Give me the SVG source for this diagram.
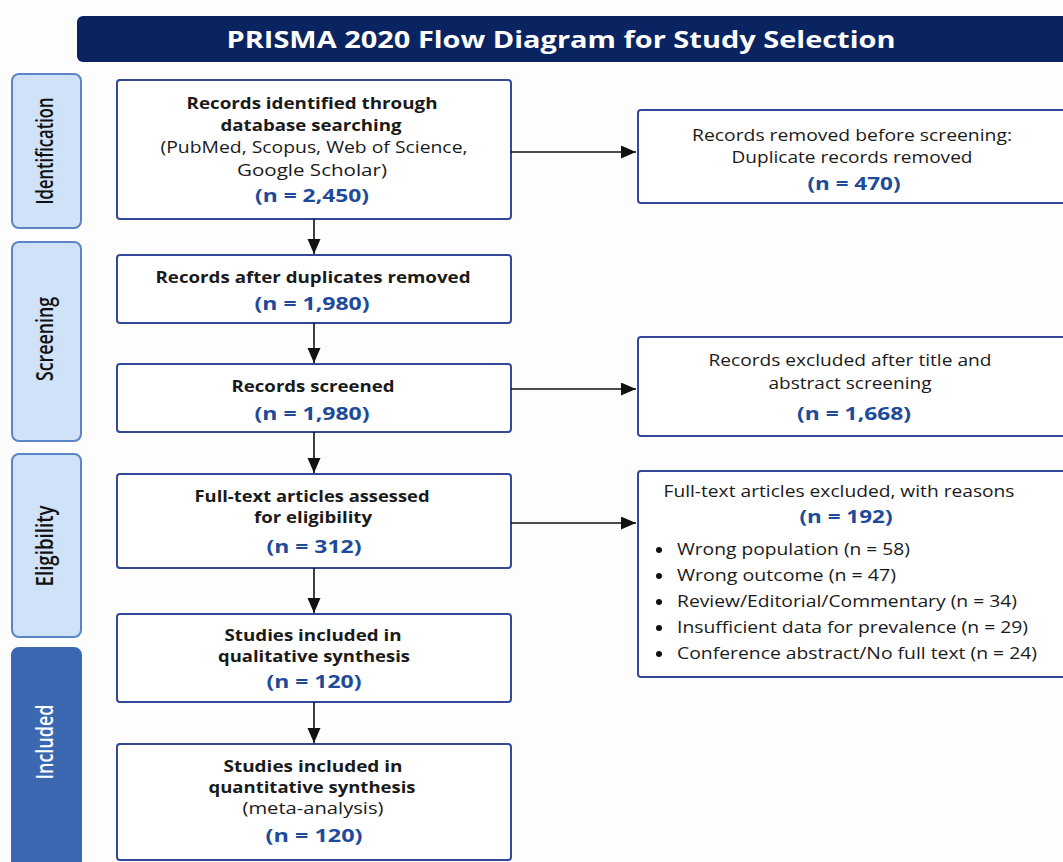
<svg xmlns="http://www.w3.org/2000/svg" width="1063" height="862" viewBox="0 0 1063 862">
<defs>
<marker id="ah" markerWidth="16" markerHeight="14" refX="15" refY="6.5" orient="auto" markerUnits="userSpaceOnUse">
<path d="M0,0 L15,6.5 L0,13 Z" fill="#111"/>
</marker>
<style>
.box{fill:#fff;stroke:#34489a;stroke-width:2}
.stage{fill:#cfe2f8;stroke:#5a84c6;stroke-width:2}
.stageD{fill:#3c68b1;stroke:#3c68b1;stroke-width:2}
.st{font-family:"Open Sans","Liberation Sans",sans-serif;font-size:20px;font-weight:600;fill:#111;text-anchor:middle}
.stw{fill:#fff}
.b{font-family:"Open Sans","Liberation Sans",sans-serif;font-size:16.5px;font-weight:700;fill:#1a1a1a;text-anchor:middle}
.r{font-family:"Open Sans","Liberation Sans",sans-serif;font-size:17px;font-weight:400;fill:#1a1a1a;text-anchor:middle}
.n{font-family:"Open Sans","Liberation Sans",sans-serif;font-size:18px;font-weight:700;fill:#1d4b9a;text-anchor:middle}
.li{font-family:"Open Sans","Liberation Sans",sans-serif;font-size:16.5px;font-weight:400;fill:#1a1a1a}
.ttl{font-family:"Open Sans","Liberation Sans",sans-serif;font-size:23px;font-weight:700;fill:#fff;text-anchor:middle}
.c{stroke:#111;stroke-width:1.6;fill:none}
</style>
</defs>
<rect width="1063" height="862" fill="#fdfdfd"/>

<g id="title">
<rect x="77" y="16" width="1000" height="46" rx="6" fill="#0a2462"/>
<text class="ttl" x="561" y="48" textLength="669" lengthAdjust="spacingAndGlyphs">PRISMA 2020 Flow Diagram for Study Selection</text>
</g>

<g id="stage-identification">
<rect class="stage" x="12" y="74" width="69" height="154" rx="7"/>
<text class="st" transform="translate(53,151) scale(1.2,1) rotate(-90)" textLength="107" lengthAdjust="spacingAndGlyphs">Identification</text>
</g>
<g id="stage-screening">
<rect class="stage" x="12" y="242" width="69" height="199" rx="7"/>
<text class="st" transform="translate(53,339) scale(1.2,1) rotate(-90)" textLength="84" lengthAdjust="spacingAndGlyphs">Screening</text>
</g>
<g id="stage-eligibility">
<rect class="stage" x="12" y="454" width="69" height="183" rx="7"/>
<text class="st" transform="translate(53,546) scale(1.2,1) rotate(-90)" textLength="81" lengthAdjust="spacingAndGlyphs">Eligibility</text>
</g>
<g id="stage-included">
<rect class="stageD" x="12" y="648" width="69" height="230" rx="7"/>
<text class="st stw" transform="translate(53,742) scale(1.2,1) rotate(-90)" textLength="75" lengthAdjust="spacingAndGlyphs">Included</text>
</g>

<g id="identified">
<rect class="box" x="117" y="80" width="394" height="139" rx="3"/>
<text class="b" x="312" y="109" textLength="251" lengthAdjust="spacingAndGlyphs">Records identified through</text>
<text class="b" x="311" y="131" textLength="181" lengthAdjust="spacingAndGlyphs">database searching</text>
<text class="r" x="314" y="153" textLength="307" lengthAdjust="spacingAndGlyphs">(PubMed, Scopus, Web of Science,</text>
<text class="r" x="312" y="176" textLength="150" lengthAdjust="spacingAndGlyphs">Google Scholar)</text>
<text class="n" x="312" y="202" textLength="114" lengthAdjust="spacingAndGlyphs">(n = 2,450)</text>
</g>

<g id="removed">
<rect class="box" x="638" y="110" width="440" height="93" rx="3"/>
<text class="r" x="852" y="141" textLength="320" lengthAdjust="spacingAndGlyphs">Records removed before screening:</text>
<text class="r" x="852" y="163" textLength="241" lengthAdjust="spacingAndGlyphs">Duplicate records removed</text>
<text class="n" x="854" y="190" textLength="93" lengthAdjust="spacingAndGlyphs">(n = 470)</text>
</g>

<g id="after-duplicates">
<rect class="box" x="117" y="255" width="394" height="68" rx="3"/>
<text class="b" x="313" y="283" textLength="315" lengthAdjust="spacingAndGlyphs">Records after duplicates removed</text>
<text class="n" x="312" y="310" textLength="115" lengthAdjust="spacingAndGlyphs">(n = 1,980)</text>
</g>

<g id="screened">
<rect class="box" x="117" y="364" width="394" height="68" rx="3"/>
<text class="b" x="313" y="392" textLength="163" lengthAdjust="spacingAndGlyphs">Records screened</text>
<text class="n" x="312" y="420" textLength="115" lengthAdjust="spacingAndGlyphs">(n = 1,980)</text>
</g>

<g id="excluded-screening">
<rect class="box" x="638" y="337" width="440" height="99" rx="3"/>
<text class="r" x="850" y="366" textLength="283" lengthAdjust="spacingAndGlyphs">Records excluded after title and</text>
<text class="r" x="850" y="389" textLength="163" lengthAdjust="spacingAndGlyphs">abstract screening</text>
<text class="n" x="854" y="420" textLength="114" lengthAdjust="spacingAndGlyphs">(n = 1,668)</text>
</g>

<g id="fulltext-assessed">
<rect class="box" x="117" y="474" width="394" height="94" rx="3"/>
<text class="b" x="312" y="502" textLength="235" lengthAdjust="spacingAndGlyphs">Full-text articles assessed</text>
<text class="b" x="313" y="523" textLength="118" lengthAdjust="spacingAndGlyphs">for eligibility</text>
<text class="n" x="314" y="553" textLength="95" lengthAdjust="spacingAndGlyphs">(n = 312)</text>
</g>

<g id="fulltext-excluded">
<rect class="box" x="638" y="471" width="440" height="206" rx="3"/>
<text class="r" x="839" y="497" textLength="351" lengthAdjust="spacingAndGlyphs">Full-text articles excluded, with reasons</text>
<text class="n" x="846" y="523" textLength="93" lengthAdjust="spacingAndGlyphs">(n = 192)</text>
<circle cx="659" cy="550" r="3" fill="#111"/>
<text class="li" x="677" y="555" textLength="233" lengthAdjust="spacingAndGlyphs">Wrong population (n = 58)</text>
<circle cx="659" cy="576" r="3" fill="#111"/>
<text class="li" x="677" y="581" textLength="219" lengthAdjust="spacingAndGlyphs">Wrong outcome (n = 47)</text>
<circle cx="659" cy="602" r="3" fill="#111"/>
<text class="li" x="677" y="607" textLength="340" lengthAdjust="spacingAndGlyphs">Review/Editorial/Commentary (n = 34)</text>
<circle cx="659" cy="628" r="3" fill="#111"/>
<text class="li" x="677" y="633" textLength="351" lengthAdjust="spacingAndGlyphs">Insufficient data for prevalence (n = 29)</text>
<circle cx="659" cy="654" r="3" fill="#111"/>
<text class="li" x="677" y="659" textLength="360" lengthAdjust="spacingAndGlyphs">Conference abstract/No full text (n = 24)</text>
</g>

<g id="qualitative">
<rect class="box" x="117" y="614" width="394" height="88" rx="3"/>
<text class="b" x="313" y="641" textLength="177" lengthAdjust="spacingAndGlyphs">Studies included in</text>
<text class="b" x="314" y="662" textLength="192" lengthAdjust="spacingAndGlyphs">qualitative synthesis</text>
<text class="n" x="314" y="688" textLength="95" lengthAdjust="spacingAndGlyphs">(n = 120)</text>
</g>

<g id="quantitative">
<rect class="box" x="117" y="744" width="394" height="116" rx="3"/>
<text class="b" x="313" y="772" textLength="179" lengthAdjust="spacingAndGlyphs">Studies included in</text>
<text class="b" x="312" y="793" textLength="207" lengthAdjust="spacingAndGlyphs">quantitative synthesis</text>
<text class="r" x="313" y="814" textLength="141" lengthAdjust="spacingAndGlyphs">(meta-analysis)</text>
<text class="n" x="314" y="842" textLength="97" lengthAdjust="spacingAndGlyphs">(n = 120)</text>
</g>

<g id="connectors">
<line class="c" x1="314" y1="219" x2="314" y2="254" marker-end="url(#ah)"/>
<line class="c" x1="314" y1="323" x2="314" y2="363" marker-end="url(#ah)"/>
<line class="c" x1="314" y1="432" x2="314" y2="473" marker-end="url(#ah)"/>
<line class="c" x1="314" y1="568" x2="314" y2="613" marker-end="url(#ah)"/>
<line class="c" x1="314" y1="702" x2="314" y2="743" marker-end="url(#ah)"/>
<line class="c" x1="511" y1="152" x2="636" y2="152" marker-end="url(#ah)"/>
<line class="c" x1="511" y1="389" x2="636" y2="389" marker-end="url(#ah)"/>
<line class="c" x1="511" y1="523" x2="636" y2="523" marker-end="url(#ah)"/>
</g>
</svg>
